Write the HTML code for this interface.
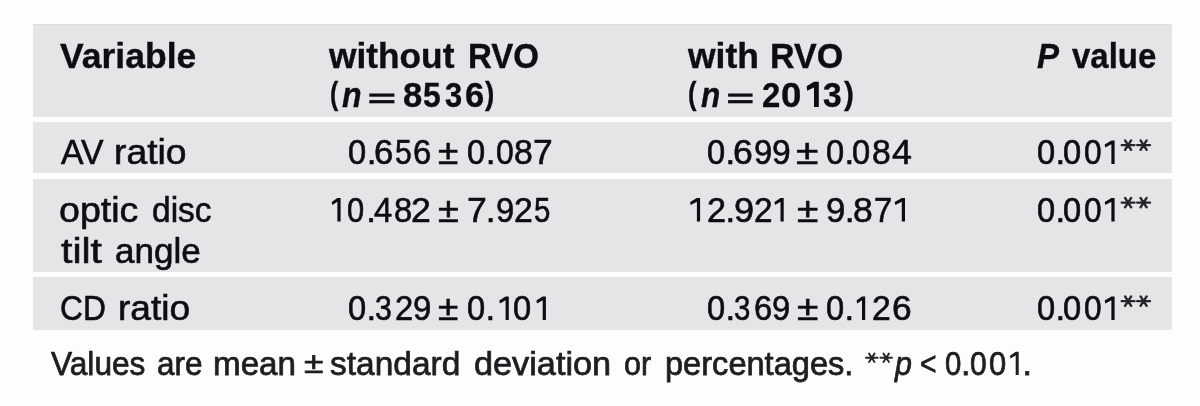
<!DOCTYPE html>
<html><head><meta charset="utf-8"><style>
html,body{margin:0;padding:0;}
body{width:1200px;height:406px;overflow:hidden;background:#fdfdfe;position:relative;font-family:"Liberation Sans",sans-serif;}
.r{position:absolute;left:33px;width:1139px;background:#e4e5e6;}
.t{filter:blur(0.3px);position:absolute;font-size:35px;line-height:40px;white-space:pre;color:#0d0d12;transform-origin:0 0;}
</style></head><body>
<div class="r" style="top:24px;height:93px"></div>
<div class="r" style="top:122px;height:51px"></div>
<div class="r" style="top:179px;height:93px"></div>
<div class="r" style="top:277px;height:53px"></div>
<div style="position:absolute;left:33px;width:1139px;top:24px;height:1px;background:#dcdddf"></div>
<div class="t" style="left:60.00px;top:35.50px;transform:scale(1.0150,1.0000);font-weight:700;-webkit-text-stroke:0.35px;">Variable</div>
<div class="t" style="left:329.00px;top:35.50px;transform:scale(1.0081,1.0000);font-weight:700;-webkit-text-stroke:0.35px;">without</div>
<div class="t" style="left:468.11px;top:35.50px;transform:scale(0.9444,1.0000);font-weight:700;-webkit-text-stroke:0.35px;">RVO</div>
<div class="t" style="left:688.00px;top:35.50px;transform:scale(1.0147,1.0000);font-weight:700;-webkit-text-stroke:0.35px;">with</div>
<div class="t" style="left:770.06px;top:35.50px;transform:scale(0.9722,1.0000);font-weight:700;-webkit-text-stroke:0.35px;">RVO</div>
<div class="t" style="left:1036.70px;top:35.50px;transform:scale(0.9458,1.0000);font-weight:700;font-style:italic;-webkit-text-stroke:0.35px;">P</div>
<div class="t" style="left:1072.20px;top:35.50px;transform:scale(0.9416,1.0000);font-weight:700;-webkit-text-stroke:0.35px;">value</div>
<div class="t" style="left:330.29px;top:76.11px;transform:scale(0.7091,0.8818);font-weight:700;-webkit-text-stroke:0.35px;">(</div>
<div class="t" style="left:341.70px;top:75.00px;transform:scale(0.9150,1.0000);font-weight:700;font-style:italic;-webkit-text-stroke:0.35px;">n</div>
<div class="t" style="left:485.00px;top:76.11px;transform:scale(0.8000,0.8818);font-weight:700;-webkit-text-stroke:0.35px;">)</div>
<div class="t" style="left:688.27px;top:76.11px;transform:scale(0.7273,0.8818);font-weight:700;-webkit-text-stroke:0.35px;">(</div>
<div class="t" style="left:701.00px;top:75.00px;transform:scale(0.9000,1.0000);font-weight:700;font-style:italic;-webkit-text-stroke:0.35px;">n</div>
<div class="t" style="left:844.00px;top:76.11px;transform:scale(0.8500,0.8818);font-weight:700;-webkit-text-stroke:0.35px;">)</div>
<div class="t" style="left:60.80px;top:132.00px;transform:scale(0.9659,1.0000);-webkit-text-stroke:0.6px;">AV</div>
<div class="t" style="left:113.67px;top:132.00px;transform:scale(1.0646,1.0000);-webkit-text-stroke:0.6px;">ratio</div>
<div class="t" style="left:438.44px;top:132.00px;transform:scale(1.0556,1.0000);-webkit-text-stroke:0.6px;">±</div>
<div class="t" style="left:795.83px;top:132.00px;transform:scale(1.1667,1.0000);-webkit-text-stroke:0.6px;">±</div>
<div class="t" style="left:59.43px;top:189.50px;transform:scale(1.0740,1.0000);-webkit-text-stroke:0.6px;">optic</div>
<div class="t" style="left:152.04px;top:189.50px;transform:scale(0.9574,1.0000);-webkit-text-stroke:0.6px;">disc</div>
<div class="t" style="left:60.50px;top:230.80px;transform:scale(1.1714,1.0000);-webkit-text-stroke:0.6px;">tilt</div>
<div class="t" style="left:114.50px;top:230.80px;transform:scale(1.0024,1.0000);-webkit-text-stroke:0.6px;">angle</div>
<div class="t" style="left:438.42px;top:189.50px;transform:scale(1.0833,1.0000);-webkit-text-stroke:0.6px;">±</div>
<div class="t" style="left:796.89px;top:189.50px;transform:scale(1.1111,1.0000);-webkit-text-stroke:0.6px;">±</div>
<div class="t" style="left:60.09px;top:288.00px;transform:scale(0.9062,1.0000);-webkit-text-stroke:0.6px;">CD</div>
<div class="t" style="left:117.88px;top:288.00px;transform:scale(1.0615,1.0000);-webkit-text-stroke:0.6px;">ratio</div>
<div class="t" style="left:437.94px;top:288.00px;transform:scale(1.0556,1.0000);-webkit-text-stroke:0.6px;">±</div>
<div class="t" style="left:796.89px;top:288.00px;transform:scale(1.1111,1.0000);-webkit-text-stroke:0.6px;">±</div>
<div class="t" style="left:51.00px;top:343.00px;transform:scale(0.9307,1.0000);font-size:34px;color:#1e1e22;-webkit-text-stroke:0.75px;">Values</div>
<div class="t" style="left:156.57px;top:343.00px;transform:scale(0.9255,1.0000);font-size:34px;color:#1e1e22;-webkit-text-stroke:0.75px;">are</div>
<div class="t" style="left:213.05px;top:343.00px;transform:scale(0.9756,1.0000);font-size:34px;color:#1e1e22;-webkit-text-stroke:0.75px;">mean</div>
<div class="t" style="left:304.26px;top:345.11px;transform:scale(1.0412,0.8905);font-size:34px;color:#1e1e22;-webkit-text-stroke:0.75px;">±</div>
<div class="t" style="left:330.02px;top:343.00px;transform:scale(0.9846,1.0000);font-size:34px;color:#1e1e22;-webkit-text-stroke:0.75px;">standard</div>
<div class="t" style="left:473.99px;top:343.00px;transform:scale(1.0075,1.0000);font-size:34px;color:#1e1e22;-webkit-text-stroke:0.75px;">deviation</div>
<div class="t" style="left:624.10px;top:343.00px;transform:scale(0.8966,1.0000);font-size:34px;color:#1e1e22;-webkit-text-stroke:0.75px;">or</div>
<div class="t" style="left:665.08px;top:343.00px;transform:scale(0.9583,1.0000);font-size:34px;color:#1e1e22;-webkit-text-stroke:0.75px;">percentages.</div>
<div class="t" style="left:894.89px;top:343.00px;transform:scale(0.8947,1.0000);font-size:34px;font-style:italic;color:#1e1e22;-webkit-text-stroke:0.75px;">p</div>
<div class="t" style="left:920.17px;top:343.00px;transform:scale(0.8333,1.0000);font-size:34px;color:#1e1e22;-webkit-text-stroke:0.75px;"><</div>
<div class="t" style="left:347.97px;top:132.00px;transform:scaleX(0.9333);-webkit-text-stroke:0.6px;">0</div>
<div class="t" style="left:366.75px;top:132.00px;-webkit-text-stroke:0.6px;">.</div>
<div class="t" style="left:373.71px;top:132.00px;transform:scaleX(0.9941);-webkit-text-stroke:0.6px;">6</div>
<div class="t" style="left:395.04px;top:132.00px;transform:scaleX(0.8611);-webkit-text-stroke:0.6px;">5</div>
<div class="t" style="left:413.06px;top:132.00px;transform:scaleX(0.9412);-webkit-text-stroke:0.6px;">6</div>
<div class="t" style="left:466.67px;top:132.00px;transform:scaleX(0.9333);-webkit-text-stroke:0.6px;">0</div>
<div class="t" style="left:485.65px;top:132.00px;-webkit-text-stroke:0.6px;">.</div>
<div class="t" style="left:495.99px;top:132.00px;transform:scaleX(0.9111);-webkit-text-stroke:0.6px;">0</div>
<div class="t" style="left:514.04px;top:132.00px;transform:scaleX(0.9647);-webkit-text-stroke:0.6px;">8</div>
<div class="t" style="left:532.99px;top:132.00px;transform:scaleX(1.0118);-webkit-text-stroke:0.6px;">7</div>
<div class="t" style="left:706.97px;top:132.00px;transform:scaleX(0.9333);-webkit-text-stroke:0.6px;">0</div>
<div class="t" style="left:725.50px;top:132.00px;-webkit-text-stroke:0.6px;">.</div>
<div class="t" style="left:732.68px;top:132.00px;transform:scaleX(1.0176);-webkit-text-stroke:0.6px;">6</div>
<div class="t" style="left:753.96px;top:132.00px;transform:scaleX(0.9353);-webkit-text-stroke:0.6px;">9</div>
<div class="t" style="left:772.04px;top:132.00px;transform:scaleX(0.9588);-webkit-text-stroke:0.6px;">9</div>
<div class="t" style="left:825.97px;top:132.00px;transform:scaleX(0.9333);-webkit-text-stroke:0.6px;">0</div>
<div class="t" style="left:844.50px;top:132.00px;-webkit-text-stroke:0.6px;">.</div>
<div class="t" style="left:852.27px;top:132.00px;transform:scaleX(0.9333);-webkit-text-stroke:0.6px;">0</div>
<div class="t" style="left:872.04px;top:132.00px;transform:scaleX(0.9647);-webkit-text-stroke:0.6px;">8</div>
<div class="t" style="left:892.00px;top:132.00px;transform:scaleX(1.0211);-webkit-text-stroke:0.6px;">4</div>
<div class="t" style="left:1036.97px;top:132.00px;transform:scaleX(0.9333);-webkit-text-stroke:0.6px;">0</div>
<div class="t" style="left:1055.50px;top:132.00px;-webkit-text-stroke:0.6px;">.</div>
<div class="t" style="left:1063.27px;top:132.00px;transform:scaleX(0.9333);-webkit-text-stroke:0.6px;">0</div>
<div class="t" style="left:1083.99px;top:132.00px;transform:scaleX(0.9056);-webkit-text-stroke:0.6px;">0</div>
<div class="t" style="left:1036.97px;top:189.50px;transform:scaleX(0.9333);-webkit-text-stroke:0.6px;">0</div>
<div class="t" style="left:1055.50px;top:189.50px;-webkit-text-stroke:0.6px;">.</div>
<div class="t" style="left:1063.27px;top:189.50px;transform:scaleX(0.9333);-webkit-text-stroke:0.6px;">0</div>
<div class="t" style="left:1083.99px;top:189.50px;transform:scaleX(0.9056);-webkit-text-stroke:0.6px;">0</div>
<div class="t" style="left:1036.97px;top:288.00px;transform:scaleX(0.9333);-webkit-text-stroke:0.6px;">0</div>
<div class="t" style="left:1055.50px;top:288.00px;-webkit-text-stroke:0.6px;">.</div>
<div class="t" style="left:1063.27px;top:288.00px;transform:scaleX(0.9333);-webkit-text-stroke:0.6px;">0</div>
<div class="t" style="left:1083.99px;top:288.00px;transform:scaleX(0.9056);-webkit-text-stroke:0.6px;">0</div>
<div class="t" style="left:347.22px;top:189.50px;transform:scaleX(0.8833);-webkit-text-stroke:0.6px;">0</div>
<div class="t" style="left:366.30px;top:189.50px;-webkit-text-stroke:0.6px;">.</div>
<div class="t" style="left:373.90px;top:189.50px;transform:scaleX(0.9368);-webkit-text-stroke:0.6px;">4</div>
<div class="t" style="left:394.46px;top:189.50px;transform:scaleX(0.9353);-webkit-text-stroke:0.6px;">8</div>
<div class="t" style="left:411.28px;top:189.50px;transform:scaleX(1.0176);-webkit-text-stroke:0.6px;">2</div>
<div class="t" style="left:467.38px;top:189.50px;transform:scaleX(1.0176);-webkit-text-stroke:0.6px;">7</div>
<div class="t" style="left:485.65px;top:189.50px;-webkit-text-stroke:0.6px;">.</div>
<div class="t" style="left:495.96px;top:189.50px;transform:scaleX(0.9353);-webkit-text-stroke:0.6px;">9</div>
<div class="t" style="left:514.04px;top:189.50px;transform:scaleX(0.9647);-webkit-text-stroke:0.6px;">2</div>
<div class="t" style="left:533.96px;top:189.50px;transform:scaleX(0.8389);-webkit-text-stroke:0.6px;">5</div>
<div class="t" style="left:707.02px;top:189.50px;transform:scaleX(0.9765);-webkit-text-stroke:0.6px;">2</div>
<div class="t" style="left:725.50px;top:189.50px;-webkit-text-stroke:0.6px;">.</div>
<div class="t" style="left:733.67px;top:189.50px;transform:scaleX(1.0294);-webkit-text-stroke:0.6px;">9</div>
<div class="t" style="left:753.85px;top:189.50px;transform:scaleX(0.9529);-webkit-text-stroke:0.6px;">2</div>
<div class="t" style="left:826.41px;top:189.50px;transform:scaleX(0.9941);-webkit-text-stroke:0.6px;">9</div>
<div class="t" style="left:844.65px;top:189.50px;-webkit-text-stroke:0.6px;">.</div>
<div class="t" style="left:852.68px;top:189.50px;transform:scaleX(1.0176);-webkit-text-stroke:0.6px;">8</div>
<div class="t" style="left:873.96px;top:189.50px;transform:scaleX(0.9353);-webkit-text-stroke:0.6px;">7</div>
<div class="t" style="left:347.97px;top:288.00px;transform:scaleX(0.9333);-webkit-text-stroke:0.6px;">0</div>
<div class="t" style="left:366.50px;top:288.00px;-webkit-text-stroke:0.6px;">.</div>
<div class="t" style="left:375.14px;top:288.00px;transform:scaleX(0.8647);-webkit-text-stroke:0.6px;">3</div>
<div class="t" style="left:394.96px;top:288.00px;transform:scaleX(0.9353);-webkit-text-stroke:0.6px;">2</div>
<div class="t" style="left:413.06px;top:288.00px;transform:scaleX(0.9412);-webkit-text-stroke:0.6px;">9</div>
<div class="t" style="left:466.97px;top:288.00px;transform:scaleX(0.9333);-webkit-text-stroke:0.6px;">0</div>
<div class="t" style="left:485.50px;top:288.00px;-webkit-text-stroke:0.6px;">.</div>
<div class="t" style="left:513.07px;top:288.00px;transform:scaleX(0.9333);-webkit-text-stroke:0.6px;">0</div>
<div class="t" style="left:706.97px;top:288.00px;transform:scaleX(0.9333);-webkit-text-stroke:0.6px;">0</div>
<div class="t" style="left:725.50px;top:288.00px;-webkit-text-stroke:0.6px;">.</div>
<div class="t" style="left:734.16px;top:288.00px;transform:scaleX(0.8412);-webkit-text-stroke:0.6px;">3</div>
<div class="t" style="left:753.96px;top:288.00px;transform:scaleX(0.9353);-webkit-text-stroke:0.6px;">6</div>
<div class="t" style="left:772.06px;top:288.00px;transform:scaleX(0.9353);-webkit-text-stroke:0.6px;">9</div>
<div class="t" style="left:825.97px;top:288.00px;transform:scaleX(0.9333);-webkit-text-stroke:0.6px;">0</div>
<div class="t" style="left:844.50px;top:288.00px;-webkit-text-stroke:0.6px;">.</div>
<div class="t" style="left:872.04px;top:288.00px;transform:scaleX(0.9647);-webkit-text-stroke:0.6px;">2</div>
<div class="t" style="left:891.79px;top:288.00px;transform:scaleX(1.0118);-webkit-text-stroke:0.6px;">6</div>
<div class="t" style="left:402.71px;top:75.00px;transform:scaleX(0.9889);font-weight:700;-webkit-text-stroke:0.35px;">8</div>
<div class="t" style="left:422.99px;top:75.00px;transform:scaleX(0.9111);font-weight:700;-webkit-text-stroke:0.35px;">5</div>
<div class="t" style="left:445.02px;top:75.00px;transform:scaleX(0.8833);font-weight:700;-webkit-text-stroke:0.35px;">3</div>
<div class="t" style="left:464.51px;top:75.00px;transform:scaleX(0.9889);font-weight:700;-webkit-text-stroke:0.35px;">6</div>
<div class="t" style="left:762.16px;top:75.00px;transform:scaleX(0.9389);font-weight:700;-webkit-text-stroke:0.35px;">2</div>
<div class="t" style="left:781.25px;top:75.00px;transform:scaleX(1.0471);font-weight:700;-webkit-text-stroke:0.35px;">0</div>
<div class="t" style="left:823.44px;top:75.00px;transform:scaleX(0.9611);font-weight:700;-webkit-text-stroke:0.35px;">3</div>
<div class="t" style="left:944.54px;top:343.00px;transform:scaleX(0.8647);font-size:34px;color:#1e1e22;-webkit-text-stroke:0.75px;">0</div>
<div class="t" style="left:961.00px;top:343.00px;font-size:34px;color:#1e1e22;-webkit-text-stroke:0.75px;">.</div>
<div class="t" style="left:969.72px;top:343.00px;transform:scaleX(0.8824);font-size:34px;color:#1e1e22;-webkit-text-stroke:0.75px;">0</div>
<div class="t" style="left:988.89px;top:343.00px;transform:scaleX(0.9118);font-size:34px;color:#1e1e22;-webkit-text-stroke:0.75px;">0</div>
<div class="t" style="left:1022.55px;top:343.00px;font-size:34px;color:#1e1e22;-webkit-text-stroke:0.75px;">.</div>
<svg style="position:absolute;left:0;top:0" width="1200" height="406" viewBox="0 0 1200 406"><path d="M1121.70 145.10L1134.50 145.10M1125.05 140.40L1131.15 149.80M1131.15 140.40L1125.05 149.80" stroke="#26262a" stroke-width="2.4" stroke-linecap="round"/><path d="M1137.20 145.10L1150.00 145.10M1140.55 140.40L1146.65 149.80M1146.65 140.40L1140.55 149.80" stroke="#26262a" stroke-width="2.4" stroke-linecap="round"/><path d="M1121.70 202.60L1134.50 202.60M1125.05 197.90L1131.15 207.30M1131.15 197.90L1125.05 207.30" stroke="#26262a" stroke-width="2.4" stroke-linecap="round"/><path d="M1137.20 202.60L1150.00 202.60M1140.55 197.90L1146.65 207.30M1146.65 197.90L1140.55 207.30" stroke="#26262a" stroke-width="2.4" stroke-linecap="round"/><path d="M1121.70 301.10L1134.50 301.10M1125.05 296.40L1131.15 305.80M1131.15 296.40L1125.05 305.80" stroke="#26262a" stroke-width="2.4" stroke-linecap="round"/><path d="M1137.20 301.10L1150.00 301.10M1140.55 296.40L1146.65 305.80M1146.65 296.40L1140.55 305.80" stroke="#26262a" stroke-width="2.4" stroke-linecap="round"/><path d="M866.00 357.80L877.60 357.80M869.08 353.61L874.52 361.99M874.52 353.61L869.08 361.99" stroke="#26262a" stroke-width="1.9" stroke-linecap="round"/><path d="M880.40 357.80L892.00 357.80M883.48 353.61L888.92 361.99M888.92 353.61L883.48 361.99" stroke="#26262a" stroke-width="1.9" stroke-linecap="round"/><rect x="369.3" y="93.5" width="25.10" height="3.2" fill="#0d0d12"/><rect x="369.3" y="100.1" width="25.10" height="3.2" fill="#0d0d12"/><rect x="728.1" y="93.5" width="24.50" height="3.2" fill="#0d0d12"/><rect x="728.1" y="100.1" width="24.50" height="3.2" fill="#0d0d12"/><path d="M1111.40 140.40L1114.60 140.40L1114.60 164.00L1111.40 164.00L1111.40 144.30L1105.30 147.60L1104.70 144.60Z" fill="#0d0d12"/><path d="M1111.40 197.90L1114.60 197.90L1114.60 221.50L1111.40 221.50L1111.40 201.80L1105.30 205.10L1104.70 202.10Z" fill="#0d0d12"/><path d="M1111.40 296.40L1114.60 296.40L1114.60 320.00L1111.40 320.00L1111.40 300.30L1105.30 303.60L1104.70 300.60Z" fill="#0d0d12"/><path d="M337.40 197.90L340.60 197.90L340.60 221.50L337.40 221.50L337.40 201.80L332.30 205.10L331.70 202.10Z" fill="#0d0d12"/><path d="M696.90 197.90L700.10 197.90L700.10 221.50L696.90 221.50L696.90 201.80L690.70 205.10L690.10 202.10Z" fill="#0d0d12"/><path d="M780.50 197.90L783.70 197.90L783.70 221.50L780.50 221.50L780.50 201.80L775.10 205.10L774.50 202.10Z" fill="#0d0d12"/><path d="M901.80 197.90L905.00 197.90L905.00 221.50L901.80 221.50L901.80 201.80L895.30 205.10L894.70 202.10Z" fill="#0d0d12"/><path d="M505.60 296.40L508.80 296.40L508.80 320.00L505.60 320.00L505.60 300.30L499.90 303.60L499.30 300.60Z" fill="#0d0d12"/><path d="M542.70 296.40L545.90 296.40L545.90 320.00L542.70 320.00L542.70 300.30L537.00 303.60L536.40 300.60Z" fill="#0d0d12"/><path d="M862.00 296.40L865.20 296.40L865.20 320.00L862.00 320.00L862.00 300.30L857.20 303.60L856.60 300.60Z" fill="#0d0d12"/><path d="M814.00 81.70L818.80 81.70L818.80 107.00L814.00 107.00L814.00 87.42L807.20 90.70L806.60 86.30Z" fill="#0d0d12"/><path d="M1015.70 351.80L1018.70 351.80L1018.70 375.00L1015.70 375.00L1015.70 355.44L1010.50 358.60L1009.90 355.80Z" fill="#1e1e22"/></svg>
</body></html>
